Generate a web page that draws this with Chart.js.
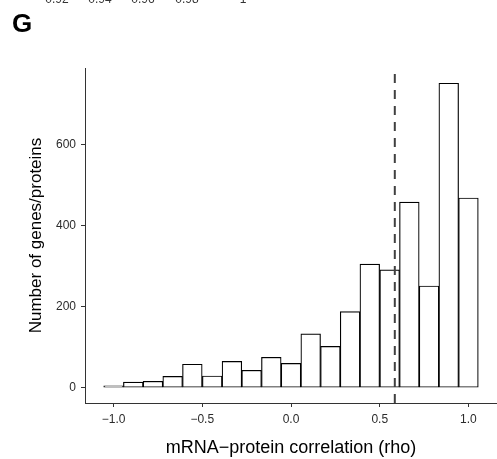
<!DOCTYPE html>
<html>
<head>
<meta charset="utf-8">
<script src="https://cdn.jsdelivr.net/npm/chart.js@4/dist/chart.umd.min.js"></script>
<style>
  html, body { margin: 0; padding: 0; background: #fff; }
  canvas { display: block; }
</style>
</head>
<body>
<canvas id="histChart" width="497" height="459"></canvas>
<script>
/* ===== DATA ===== */
const binCenters = [-1.0, -0.889, -0.778, -0.667, -0.556, -0.444, -0.333, -0.222, -0.111, 0.0,
                    0.111, 0.222, 0.333, 0.444, 0.556, 0.667, 0.778, 0.889, 1.0];
const geneCounts = [5, 14, 16, 28, 58, 29, 65, 43, 75, 60,
                    133, 102, 188, 305, 291, 458, 251, 751, 468];
const medianRho = 0.585;
const xTicks = [-1.0, -0.5, 0.0, 0.5, 1.0];
const xTickLabels = ["\u22121.0", "\u22120.5", "0.0", "0.5", "1.0"];
const yTicks = [0, 200, 400, 600];
const topStripLabels = ["0.92", "0.94", "0.96", "0.98", "1"];

const X_MIN = -1.161, X_MAX = 1.161;
const Y_MIN = -37.6, Y_MAX = 788.6;

const FONT = "'Liberation Sans', Arial, Helvetica, sans-serif";

/* ===== EXTRA TEXT (panel letter, cut strip above) ===== */
const panelText = {
  id: "panelText",
  afterDraw(chart) {
    const ctx = chart.ctx;
    ctx.save();
    ctx.fillStyle = "#000";
    ctx.font = "bold 26px " + FONT;
    ctx.textAlign = "left";
    ctx.textBaseline = "alphabetic";
    ctx.fillText("G", 12, 32);

    ctx.fillStyle = "#333";
    ctx.font = "12px " + FONT;
    ctx.textAlign = "center";
    const xs = [57, 100, 143, 187, 243];
    topStripLabels.forEach((t, i) => ctx.fillText(t, xs[i], 3));
    ctx.restore();
  }
};

/* ===== CHART ===== */
const ctx = document.getElementById("histChart");
new Chart(ctx, {
  type: "bar",
  data: {
    datasets: [
      {
        type: "bar",
        data: binCenters.map((x, i) => ({ x: x, y: geneCounts[i] })),
        backgroundColor: "#ffffff",
        borderColor: "#000",
        borderWidth: 1.2,
        borderSkipped: false,
        barPercentage: 1.0,
        categoryPercentage: 1.0,
        order: 2
      },
      {
        type: "line",
        data: [{ x: medianRho, y: Y_MIN }, { x: medianRho, y: Y_MAX }],
        borderColor: "#404040",
        borderWidth: 2,
        borderDash: [9, 7],
        pointRadius: 0,
        fill: false,
        order: 1
      }
    ]
  },
  options: {
    responsive: false,
    animation: false,
    layout: { padding: { left: 0, top: 68, right: 0, bottom: 0 } },
    plugins: {
      legend: { display: false },
      tooltip: { enabled: false }
    },
    scales: {
      x: {
        type: "linear",
        offset: false,
        min: X_MIN,
        max: X_MAX,
        afterBuildTicks: s => { s.ticks = xTicks.map(v => ({ value: v })); },
        afterFit: s => { s.height = 56; },
        ticks: {
          callback: (v, i) => xTickLabels[i],
          font: { family: FONT, size: 12 },
          color: "#2b2b2b",
          padding: 5,
          maxRotation: 0
        },
        grid: { display: true, offset: false, drawOnChartArea: false, drawTicks: true, tickLength: 4, color: "#333" },
        border: { display: true, color: "#333", width: 1 },
        title: {
          display: true,
          text: "mRNA\u2212protein correlation (rho)",
          font: { family: FONT, size: 18 },
          color: "#000",
          padding: { top: 0, bottom: 0 }
        }
      },
      y: {
        type: "linear",
        min: Y_MIN,
        max: Y_MAX,
        afterBuildTicks: s => { s.ticks = yTicks.map(v => ({ value: v })); },
        afterFit: s => { s.width = 85; },
        ticks: {
          callback: v => String(v),
          font: { family: FONT, size: 12 },
          color: "#2b2b2b",
          padding: 5
        },
        grid: { display: true, drawOnChartArea: false, drawTicks: true, tickLength: 4, color: "#333" },
        border: { display: true, color: "#333", width: 1 },
        title: {
          display: true,
          text: "Number of genes/proteins",
          font: { family: FONT, size: 17 },
          color: "#000",
          padding: { top: 26, bottom: 0 }
        }
      }
    }
  },
  plugins: [panelText]
});
</script>
</body>
</html>
